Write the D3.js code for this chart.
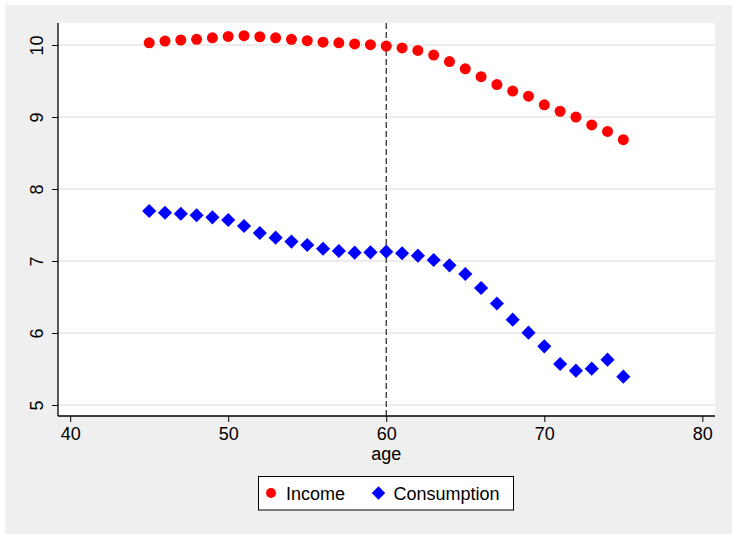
<!DOCTYPE html>
<html>
<head>
<meta charset="utf-8">
<script src="https://cdn.jsdelivr.net/npm/d3@7"></script>
<style>
  html, body { margin: 0; padding: 0; background: #ffffff; }
  svg { display: block; font-family: "Liberation Sans", Arial, sans-serif; }
</style>
</head>
<body>
<svg id="chart" width="732" height="534"></svg>
<script>
// Age profiles of log income and log consumption
const ages = d3.range(45, 76);
const income = [
  10.03, 10.055, 10.07, 10.08, 10.10, 10.12, 10.13, 10.115, 10.10, 10.08,
  10.06, 10.04, 10.03, 10.015, 10.005, 9.985, 9.96, 9.925, 9.86, 9.77,
  9.67, 9.56, 9.45, 9.36, 9.29, 9.17, 9.08, 9.00, 8.89, 8.80, 8.685
];
const consumption = [
  7.694, 7.67, 7.657, 7.635, 7.607, 7.57, 7.486, 7.389, 7.324, 7.27,
  7.222, 7.17, 7.139, 7.116, 7.12, 7.13, 7.107, 7.074, 7.014, 6.94,
  6.82, 6.625, 6.41, 6.185, 6.005, 5.815, 5.57, 5.477, 5.505, 5.63, 5.393
];
const xTicks = [40, 50, 60, 70, 80];
const yTicks = [5, 6, 7, 8, 9, 10];
const refAge = 60;
const legendItems = [
  { label: "Income", color: "#ff0000", shape: "circle" },
  { label: "Consumption", color: "#0000ff", shape: "diamond" }
];

const svg = d3.select("#chart");
const W = 732, H = 534;
const plot = { left: 58, right: 715, top: 23, bottom: 416 };

// graph region background
svg.append("rect").attr("x", 5).attr("y", 5).attr("width", W - 5).attr("height", H - 5)
  .attr("fill", "#efefef");
// plot region
svg.append("rect").attr("x", plot.left).attr("y", plot.top)
  .attr("width", plot.right - plot.left).attr("height", plot.bottom - plot.top)
  .attr("fill", "#ffffff");

const x = d3.scaleLinear().domain([39.23, 80.8]).range([plot.left, plot.right]);
const y = d3.scaleLinear().domain([4.847, 10.306]).range([plot.bottom, plot.top]);

// horizontal grid lines
svg.append("g").selectAll("line").data(yTicks).join("line")
  .attr("x1", plot.left).attr("x2", plot.right)
  .attr("y1", d => y(d)).attr("y2", d => y(d))
  .attr("stroke", "#e6e6e6").attr("stroke-width", 1.5);

// reference line at retirement age
svg.append("line")
  .attr("x1", x(refAge)).attr("x2", x(refAge))
  .attr("y1", plot.top).attr("y2", plot.bottom)
  .attr("stroke", "#333333").attr("stroke-width", 1.3)
  .attr("stroke-dasharray", "6,3");

// y axis
const yAxis = svg.append("g").attr("transform", `translate(${plot.left},0)`)
  .call(d3.axisLeft(y).tickValues(yTicks).tickSize(6).tickSizeOuter(0).tickFormat(d3.format("d")));
yAxis.select(".domain").attr("stroke", "#000").attr("stroke-width", 1.3)
  .attr("d", `M0,${plot.top}V${plot.bottom}`);
yAxis.selectAll(".tick line").attr("stroke", "#000");
yAxis.selectAll(".tick text")
  .attr("font-size", 18).attr("fill", "#000")
  .attr("x", null).attr("dy", null)
  .attr("text-anchor", "middle")
  .attr("transform", "translate(-15,0) rotate(-90)");

// x axis
const xAxis = svg.append("g").attr("transform", `translate(0,${plot.bottom})`)
  .call(d3.axisBottom(x).tickValues(xTicks).tickSize(6).tickSizeOuter(0).tickFormat(d3.format("d")));
xAxis.select(".domain").attr("stroke", "#000").attr("stroke-width", 1.3)
  .attr("d", `M${plot.left},0H${plot.right}`);
xAxis.selectAll(".tick line").attr("stroke", "#000");
xAxis.selectAll(".tick text")
  .attr("font-size", 18).attr("fill", "#000")
  .attr("y", 24).attr("dy", null);

svg.append("text").attr("x", x(refAge)).attr("y", 460)
  .attr("text-anchor", "middle").attr("font-size", 18).attr("fill", "#000")
  .text("age");

// markers
const circleSym = d3.symbol().type(d3.symbolCircle).size(Math.PI * 5.5 * 5.5);
const diamondSym = d3.symbol().type(d3.symbolSquare).size(10 * 10);

svg.append("g").selectAll("path").data(ages).join("path")
  .attr("d", circleSym)
  .attr("transform", (d, i) => `translate(${x(d)},${y(income[i])})`)
  .attr("fill", legendItems[0].color);

svg.append("g").selectAll("path").data(ages).join("path")
  .attr("d", diamondSym)
  .attr("transform", (d, i) => `translate(${x(d)},${y(consumption[i])}) rotate(45)`)
  .attr("fill", legendItems[1].color);

// legend
const lg = svg.append("g");
lg.append("rect").attr("x", 258.5).attr("y", 476.5).attr("width", 255).attr("height", 33.5)
  .attr("fill", "#ffffff").attr("stroke", "#000").attr("stroke-width", 1);
const legendPos = [{ mx: 271, tx: 286 }, { mx: 378.5, tx: 393.5 }];
legendItems.forEach((it, i) => {
  const p = legendPos[i];
  if (it.shape === "circle") {
    lg.append("path").attr("d", d3.symbol().type(d3.symbolCircle).size(Math.PI * 5 * 5))
      .attr("transform", `translate(${p.mx},493)`).attr("fill", it.color);
  } else {
    lg.append("path").attr("d", d3.symbol().type(d3.symbolSquare).size(9.5 * 9.5))
      .attr("transform", `translate(${p.mx},493) rotate(45)`).attr("fill", it.color);
  }
  lg.append("text").attr("x", p.tx).attr("y", 499.5).attr("font-size", 18).attr("fill", "#000")
    .text(it.label);
});
</script>
</body>
</html>
